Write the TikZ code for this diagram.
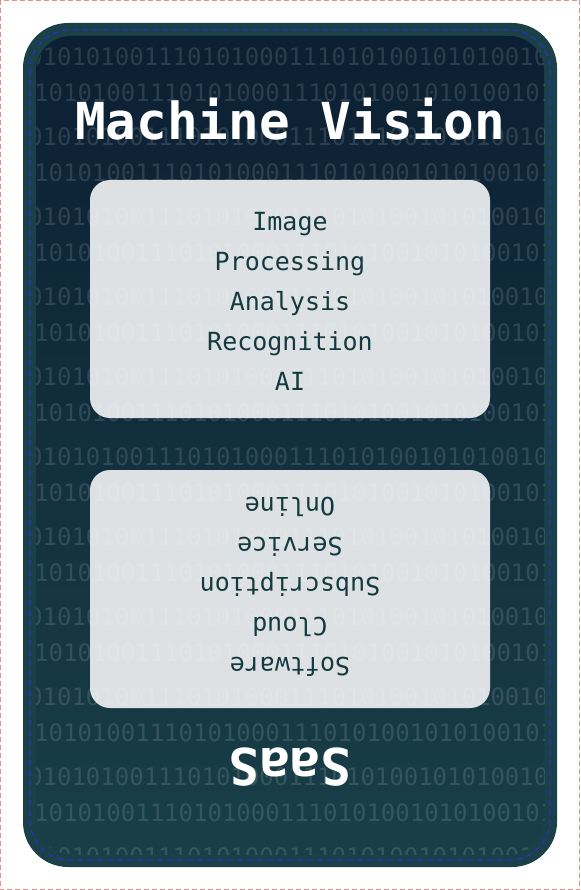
\documentclass[tikz,border=0pt]{standalone}
\usepackage{fontspec}
\setmonofont{DejaVu Sans Mono}
\definecolor{bgtop}{HTML}{0C1F33}
\definecolor{bgbottom}{HTML}{183F48}
\definecolor{framecol}{HTML}{1B4048}
\definecolor{boxgray}{HTML}{DDE1E4}
\definecolor{textteal}{HTML}{143A3F}
\definecolor{pinkline}{HTML}{F08A8A}
\definecolor{dashblue}{HTML}{2233CC}
\begin{document}
\begin{tikzpicture}[x=1pt,y=-1pt,
  panel/.style={fill=boxgray, rounded corners=20pt},
  bits/.style={font=\fontsize{24}{24}\selectfont\ttfamily, text=white, text opacity=0.13, anchor=west, inner sep=0pt},
  boxtext/.style={font=\fontsize{25}{40}\selectfont\ttfamily, text=textteal, align=center, inner sep=0pt},
  heading/.style={font=\fontsize{51}{51}\selectfont\ttfamily\bfseries, text=white, anchor=base, inner sep=0pt}]
\useasboundingbox (0,0) rectangle (580,890);
\draw[pinkline, dash pattern=on 5pt off 3pt, line width=1pt] (0.5,0.5) rectangle (579.5,889.5);
\fill[framecol, rounded corners=45pt] (23,23) rectangle (557,867);
\shade[rounded corners=35pt, top color=bgtop, bottom color=bgbottom] (36,36) rectangle (544,854);
\draw[dashblue, line width=1.1pt, dash pattern=on 6pt off 4pt, rounded corners=40pt] (30,30) rectangle (550,860);
\fill[panel] (90,180) rectangle (490,418);
\fill[panel] (90,470) rectangle (490,708);
\begin{scope}
  \clip[rounded corners=35pt] (36,36) rectangle (544,854);
  \foreach \i in {0,...,10} {
    \node[bits] (bitsA-\i) at (28,57+80*\i) {01010100111010100011101010010101001010100111};
  }
  \foreach \i in {0,...,9} {
    \node[bits] (bitsB-\i) at (34,93+80*\i) {1010100111010100011101010010101001010100111};
  }
\end{scope}
\node[heading] (title) at (290,140) {Machine Vision};
\node[boxtext] (mvtext) at (290,301) {Image\\Processing\\Analysis\\Recognition\\AI};
\node[boxtext, rotate=180] (saastext) at (290,587) {Software\\Cloud\\Subscription\\Service\\Online};
\node[heading, rotate=180] (saas) at (290,748) {SaaS};
\end{tikzpicture}
\end{document}
